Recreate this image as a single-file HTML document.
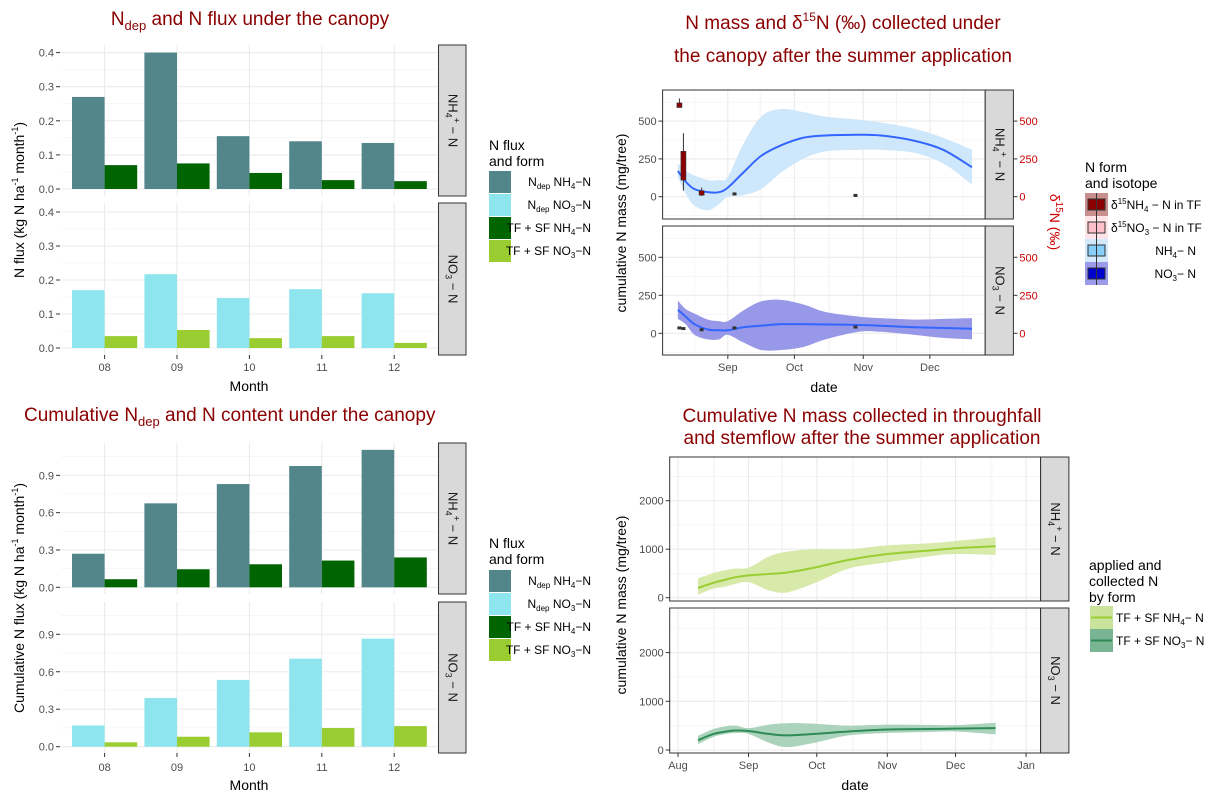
<!DOCTYPE html>
<html><head><meta charset="utf-8"><style>
body{margin:0;background:#fff;}
svg{display:block;font-family:"Liberation Sans",sans-serif;}
.tk{font-size:11px;fill:#4d4d4d;}
.ax{font-size:14px;fill:#000;}
.ttl{font-size:19px;fill:#8b0000;}
.lt{font-size:14px;fill:#000;}
.ll{font-size:12px;fill:#000;}
.st{font-size:13px;fill:#1a1a1a;}
</style></head><body>
<svg id="chart" width="1211" height="797" viewBox="0 0 1211 797">
<text class="ttl" x="250" y="25" text-anchor="middle">N<tspan font-size="13" dy="5">dep</tspan><tspan dy="-5"> and N flux under the canopy</tspan></text>
<text class="ttl" x="843" y="29" text-anchor="middle">N mass and δ<tspan font-size="12" dy="-8">15</tspan><tspan dy="8">N (‰) collected under</tspan></text>
<text class="ttl" x="843" y="62" text-anchor="middle">the canopy after the summer application</text>
<text class="ttl" x="24" y="421">Cumulative N<tspan font-size="13" dy="5">dep</tspan><tspan dy="-5"> and N content under the canopy</tspan></text>
<text class="ttl" x="862" y="422" text-anchor="middle">Cumulative N mass collected in throughfall</text>
<text class="ttl" x="862" y="444" text-anchor="middle">and stemflow after the summer application</text>

<text class="ax" transform="translate(24,200) rotate(-90)" text-anchor="middle">N flux  (kg N ha<tspan font-size="9" dy="-6">-1</tspan><tspan dy="6"> month</tspan><tspan font-size="9" dy="-6">-1</tspan><tspan dy="6">)</tspan></text>
<text class="ax" transform="translate(24,598) rotate(-90)" text-anchor="middle">Cumulative N flux  (kg N ha<tspan font-size="9" dy="-6">-1</tspan><tspan dy="6"> month</tspan><tspan font-size="9" dy="-6">-1</tspan><tspan dy="6">)</tspan></text>
<text class="ax" transform="translate(626,223) rotate(-90)" text-anchor="middle">cumulative N mass (mg/tree)</text>
<text class="ax" transform="translate(626,605) rotate(-90)" text-anchor="middle">cumulative N mass (mg/tree)</text>
<text transform="translate(1050,222) rotate(90)" text-anchor="middle" font-size="14" fill="#cc0000">δ<tspan font-size="10" dy="-6">15</tspan><tspan dy="6">N (‰)</tspan></text>
<text class="ax" x="249" y="391" text-anchor="middle">Month</text>
<text class="ax" x="249" y="790" text-anchor="middle">Month</text>
<text class="ax" x="824" y="392" text-anchor="middle">date</text>
<text class="ax" x="855" y="790" text-anchor="middle">date</text>

<!-- legends flux -->
<g>
<text class="lt" x="489" y="150">N flux</text><text class="lt" x="489" y="166">and form</text>
<rect x="489" y="171" width="22" height="22" fill="#53868b"/>
<rect x="489" y="194" width="22" height="22" fill="#8ee5ee"/>
<rect x="489" y="217" width="22" height="22" fill="#006400"/>
<rect x="489" y="240" width="22" height="22" fill="#9acd32"/>
<text class="ll" x="591" y="186" text-anchor="end">N<tspan font-size="8" dy="3">dep</tspan><tspan dy="-3"> NH</tspan><tspan font-size="8" dy="3">4</tspan><tspan dy="-3">−N</tspan></text>
<text class="ll" x="591" y="209" text-anchor="end">N<tspan font-size="8" dy="3">dep</tspan><tspan dy="-3"> NO</tspan><tspan font-size="8" dy="3">3</tspan><tspan dy="-3">−N</tspan></text>
<text class="ll" x="591" y="232" text-anchor="end">TF + SF NH<tspan font-size="8" dy="3">4</tspan><tspan dy="-3">−N</tspan></text>
<text class="ll" x="591" y="255" text-anchor="end">TF + SF NO<tspan font-size="8" dy="3">3</tspan><tspan dy="-3">−N</tspan></text>
</g>
<g>
<text class="lt" x="489" y="548">N flux</text><text class="lt" x="489" y="564">and form</text>
<rect x="489" y="570" width="22" height="22" fill="#53868b"/>
<rect x="489" y="593" width="22" height="22" fill="#8ee5ee"/>
<rect x="489" y="616" width="22" height="22" fill="#006400"/>
<rect x="489" y="639" width="22" height="22" fill="#9acd32"/>
<text class="ll" x="591" y="585" text-anchor="end">N<tspan font-size="8" dy="3">dep</tspan><tspan dy="-3"> NH</tspan><tspan font-size="8" dy="3">4</tspan><tspan dy="-3">−N</tspan></text>
<text class="ll" x="591" y="608" text-anchor="end">N<tspan font-size="8" dy="3">dep</tspan><tspan dy="-3"> NO</tspan><tspan font-size="8" dy="3">3</tspan><tspan dy="-3">−N</tspan></text>
<text class="ll" x="591" y="631" text-anchor="end">TF + SF NH<tspan font-size="8" dy="3">4</tspan><tspan dy="-3">−N</tspan></text>
<text class="ll" x="591" y="654" text-anchor="end">TF + SF NO<tspan font-size="8" dy="3">3</tspan><tspan dy="-3">−N</tspan></text>
</g>
<g>
<text class="lt" x="1085" y="172">N form</text><text class="lt" x="1085" y="188">and isotope</text>
<rect x="1085" y="193" width="23" height="23" fill="#c98f8f"/><rect x="1088" y="199" width="17" height="11" fill="#8b0000" stroke="#333"/><line x1="1096.5" y1="193" x2="1096.5" y2="216" stroke="#333"/>
<rect x="1085" y="216" width="23" height="23" fill="#ffe4e8"/><rect x="1088" y="222" width="17" height="11" fill="#ffc0cb" stroke="#333"/><line x1="1096.5" y1="216" x2="1096.5" y2="239" stroke="#333"/>
<rect x="1085" y="239" width="23" height="23" fill="#d2eafb"/><rect x="1088" y="245" width="17" height="11" fill="#87cefa" stroke="#333"/><line x1="1096.5" y1="239" x2="1096.5" y2="262" stroke="#333"/>
<rect x="1085" y="262" width="23" height="23" fill="#9b9be9"/><rect x="1088" y="268" width="17" height="11" fill="#0000cd" stroke="#333"/><line x1="1096.5" y1="262" x2="1096.5" y2="285" stroke="#333"/>
<text class="ll" x="1111" y="209">δ<tspan font-size="8" dy="-5">15</tspan><tspan dy="5">NH</tspan><tspan font-size="8" dy="3">4</tspan><tspan dy="-3"> − N in TF</tspan></text>
<text class="ll" x="1111" y="232">δ<tspan font-size="8" dy="-5">15</tspan><tspan dy="5">NO</tspan><tspan font-size="8" dy="3">3</tspan><tspan dy="-3"> − N in TF</tspan></text>
<text class="ll" x="1196" y="255" text-anchor="end">NH<tspan font-size="8" dy="3">4</tspan><tspan dy="-3">− N</tspan></text>
<text class="ll" x="1196" y="278" text-anchor="end">NO<tspan font-size="8" dy="3">3</tspan><tspan dy="-3">− N</tspan></text>
</g>
<g>
<text class="lt" x="1089" y="570">applied and</text><text class="lt" x="1089" y="586">collected N</text><text class="lt" x="1089" y="602">by form</text>
<rect x="1090" y="606" width="23" height="23" fill="#c9e49a"/><line x1="1091" y1="617.5" x2="1112" y2="617.5" stroke="#9acd32" stroke-width="2"/>
<rect x="1090" y="629" width="23" height="23" fill="#79b592"/><line x1="1091" y1="640.5" x2="1112" y2="640.5" stroke="#2e8b57" stroke-width="2"/>
<text class="ll" x="1116" y="622">TF + SF NH<tspan font-size="8" dy="3">4</tspan><tspan dy="-3">− N</tspan></text>
<text class="ll" x="1116" y="645">TF + SF NO<tspan font-size="8" dy="3">3</tspan><tspan dy="-3">− N</tspan></text>
</g>
</svg>
<script>
// ---- data ----
const months=['08','09','10','11','12'];
const fluxDepNH4=[0.27,0.40,0.155,0.14,0.135];
const fluxTfNH4=[0.07,0.075,0.047,0.026,0.023];
const fluxDepNO3=[0.17,0.217,0.147,0.173,0.161];
const fluxTfNO3=[0.035,0.053,0.029,0.035,0.015];
const cumDepNH4=[0.27,0.675,0.83,0.975,1.105];
const cumTfNH4=[0.065,0.145,0.185,0.215,0.24];
const cumDepNO3=[0.17,0.39,0.535,0.705,0.865];
const cumTfNO3=[0.035,0.08,0.115,0.15,0.165];
const fluxTicks=[0,0.1,0.2,0.3,0.4];
const cumTicks=[0,0.3,0.6,0.9];
// mass under canopy (days since Aug 1)
const massDays=[8.5,12,16,22,27,31,38,46,55,65,75,90,100,115,128,141];
const massNH4=[170,100,50,30,30,60,160,270,340,390,405,410,405,370,310,195];
const massNH4Lo=[130,20,-60,-90,-50,0,10,50,160,250,300,310,310,290,220,80];
const massNH4Hi=[220,170,140,110,110,130,350,530,580,560,530,510,490,450,390,310];
const massNO3=[155,110,60,25,20,20,40,50,60,60,58,55,50,40,35,30];
const massNO3Lo=[95,60,-10,-40,-40,-10,-60,-110,-110,-90,-40,10,10,-10,-30,-40];
const massNO3Hi=[215,160,130,90,80,80,150,210,220,190,140,110,100,90,95,100];
const boxDays=[9.2,11,19.2];
const boxLow=[590,40,5];
const boxQ1=[590,110,10];
const boxQ3=[620,300,40];
const boxHigh=[650,420,60];
const dotDaysNH4=[34,88.5];
const dotValsNH4=[15,5];
const dotDaysNO3=[9.2,11,19.2,34,88.5];
const dotValsNO3=[32,28,20,32,38];
const massTicks=[0,250,500];
const monthLabelsMass=['Sep','Oct','Nov','Dec'];
const monthDaysMass=[31,61,92,122];
// collected
const colDays=[8.8,15,20,25,31,40,48,60,75,92,110,122,139.6];
const colNH4=[200,300,360,420,460,490,520,620,780,900,970,1020,1060];
const colNH4Lo=[60,180,220,280,320,150,110,300,600,730,850,900,880];
const colNH4Hi=[400,500,560,600,620,850,950,1000,1000,1080,1120,1170,1250];
const colNO3=[200,320,370,400,390,330,300,330,380,420,430,440,450];
const colNO3Lo=[120,260,320,350,330,150,60,150,300,350,370,380,320];
const colNO3Hi=[290,420,480,500,450,520,550,540,500,520,515,510,560];
const colTicks=[0,1000,2000];
const monthLabelsCol=['Aug','Sep','Oct','Nov','Dec','Jan'];
const monthDaysCol=[0,31,61,92,122,153];

const NS='http://www.w3.org/2000/svg';
const svg=document.getElementById('chart');
const first=svg.firstChild;
function mk(tag,attrs,parent){const e=document.createElementNS(NS,tag);for(const k in attrs)e.setAttribute(k,attrs[k]);(parent||svg).insertBefore(e,parent?null:first);return e;}
function smoothPath(xs,ys){let d='M'+xs[0]+','+ys[0];for(let i=0;i<xs.length-1;i++){const x0=xs[Math.max(0,i-1)],y0=ys[Math.max(0,i-1)],x1=xs[i],y1=ys[i],x2=xs[i+1],y2=ys[i+1],x3=xs[Math.min(xs.length-1,i+2)],y3=ys[Math.min(xs.length-1,i+2)];d+=' C'+(x1+(x2-x0)/6)+','+(y1+(y2-y0)/6)+' '+(x2-(x3-x1)/6)+','+(y2-(y3-y1)/6)+' '+x2+','+y2;}return d;}
function bandPath(xs,lo,hi){const p1=smoothPath(xs,hi);const rx=xs.slice().reverse(),rl=lo.slice().reverse();const p2=smoothPath(rx,rl).replace('M','L');return p1+' '+p2+' Z';}

function strip(x,y,w,h,label,sub,sup,name){
  const g=mk('g',{});
  
  
  mk('rect',{x:x,y:y,width:w,height:h,fill:'#d9d9d9',stroke:'#333','stroke-width':1},g);
  const t=mk('text',{transform:'translate('+(x+w/2-4)+','+(y+h/2)+') rotate(90)','text-anchor':'middle',class:'st'},g);
  t.innerHTML=label+'<tspan font-size="9" dy="3">'+sub+'</tspan>'+(sup?'<tspan font-size="9" dy="-8">'+sup+'</tspan><tspan dy="5"> − N</tspan>':'<tspan dy="-3"> − N</tspan>');
}

// ---- bar panels ----
function barPanel(top,bot,zero,scale,ticks,dep,tf,depCol,tfCol,name,showX,xLabY){
  const x0=60.8,x1=437.7;
  const g=mk('g',{});
  
  
  const yv=v=>zero-v*scale;
  const step=ticks[1]-ticks[0];
  for(let v=step/2;yv(v)>=top;v+=step){mk('line',{x1:x0,x2:x1,y1:yv(v),y2:yv(v),stroke:'#f2f2f2','stroke-width':0.6},g);}
  ticks.forEach(v=>{mk('line',{x1:x0,x2:x1,y1:yv(v),y2:yv(v),stroke:'#ebebeb','stroke-width':1.1},g);
    const t=mk('text',{x:54,y:yv(v)+4,'text-anchor':'end',class:'tk'},g);t.textContent=v.toFixed(1);
    mk('line',{x1:56,x2:60,y1:yv(v),y2:yv(v),stroke:'#333'},g);});
  const xc=i=>104.6+i*72.4;
  months.forEach((m,i)=>{mk('line',{x1:xc(i),x2:xc(i),y1:top,y2:bot,stroke:'#ebebeb','stroke-width':1.1},g);});
  dep.forEach((v,i)=>{const r=mk('rect',{x:xc(i)-32.6,y:yv(v),width:32.6,height:zero-yv(v),fill:depCol},g);
    
    });
  tf.forEach((v,i)=>{const r=mk('rect',{x:xc(i),y:yv(v),width:32.6,height:zero-yv(v),fill:tfCol},g);
    
    });
  if(showX){months.forEach((m,i)=>{mk('line',{x1:xc(i),x2:xc(i),y1:bot,y2:bot+4,stroke:'#333'},g);
    const t=mk('text',{x:xc(i),y:xLabY,'text-anchor':'middle',class:'tk'},g);t.textContent=m;});}
}
barPanel(45,196,189,341,fluxTicks,fluxDepNH4,fluxTfNH4,'#53868b','#006400','panel-flux-nh4',false);
barPanel(203,355,348,340,fluxTicks,fluxDepNO3,fluxTfNO3,'#8ee5ee','#9acd32','panel-flux-no3',true,371);
barPanel(443,594,587.3,124.4,cumTicks,cumDepNH4,cumTfNH4,'#53868b','#006400','panel-cum-nh4',false);
barPanel(602,753,746.7,124.9,cumTicks,cumDepNO3,cumTfNO3,'#8ee5ee','#9acd32','panel-cum-no3',true,771);
strip(438.5,45,27.5,151,'NH','4','+','strip-flux-nh4');
strip(438.5,203,27.5,152,'NO','3','','strip-flux-no3');
strip(438.5,443,27.5,151,'NH','4','+','strip-cum-nh4');
strip(438.5,602,27.5,151,'NO','3','','strip-cum-no3');

// ---- line panels ----
function linePanel(o){
  const g=mk('g',{});
  
  
  const xd=d=>o.xOrig+d*o.pxDay, yv=v=>o.zero-v*o.scale;
  mk('rect',{x:o.x0,y:o.top,width:o.x1-o.x0,height:o.bot-o.top,fill:'#fff'},g);
  const st=o.ticks[1]-o.ticks[0];
  for(let v=o.ticks[0]-st/2;v<=o.ticks[2]+st;v+=st){if(yv(v)>o.top&&yv(v)<o.bot)mk('line',{x1:o.x0,x2:o.x1,y1:yv(v),y2:yv(v),stroke:'#f2f2f2','stroke-width':0.6},g);}
  for(let i=0;i<o.mDays.length;i++){const a=o.mDays[i],b=o.mDays[i+1]!==undefined?o.mDays[i+1]:a+30;const mid=(a+b)/2;
    [a-(b-a)/2,mid].forEach(d=>{if(xd(d)>o.x0&&xd(d)<o.x1)mk('line',{x1:xd(d),x2:xd(d),y1:o.top,y2:o.bot,stroke:'#f2f2f2','stroke-width':0.6},g);});}
  o.ticks.forEach(v=>mk('line',{x1:o.x0,x2:o.x1,y1:yv(v),y2:yv(v),stroke:'#ebebeb','stroke-width':1.1},g));
  o.mDays.forEach(d=>mk('line',{x1:xd(d),x2:xd(d),y1:o.top,y2:o.bot,stroke:'#ebebeb','stroke-width':1.1},g));
  const band=mk('path',{d:bandPath(o.days.map(xd),o.lo.map(yv),o.hi.map(yv)),fill:o.bandCol,stroke:'none'},g);
  
  
  const ln=mk('path',{d:smoothPath(o.days.map(xd),o.vals.map(yv)),fill:'none',stroke:o.lineCol,'stroke-width':2},g);
  
  
  if(o.boxes){o.boxes.d.forEach((d,i)=>{const x=xd(d);
    mk('line',{x1:x,x2:x,y1:yv(o.boxes.lo[i]),y2:yv(o.boxes.hi[i]),stroke:'#333'},g);
    const r=mk('rect',{x:x-2.5,y:yv(o.boxes.q3[i]),width:5,height:Math.max(2,yv(o.boxes.q1[i])-yv(o.boxes.q3[i])),fill:'#8b0000',stroke:'#333','stroke-width':0.6},g);
    
    });}
  if(o.dots){o.dots.d.forEach((d,i)=>{const p=mk('rect',{x:xd(d)-2,y:yv(o.dots.v[i])-2,width:4,height:3,fill:'#333'},g);
    
    });}
  mk('rect',{x:o.x0,y:o.top,width:o.x1-o.x0,height:o.bot-o.top,fill:'none',stroke:'#333','stroke-width':1},g);
  o.ticks.forEach(v=>{mk('line',{x1:o.x0-4,x2:o.x0,y1:yv(v),y2:yv(v),stroke:'#333'},g);
    const t=mk('text',{x:o.x0-6,y:yv(v)+4,'text-anchor':'end',class:'tk'},g);t.textContent=v;
    if(o.right){mk('line',{x1:o.right,x2:o.right+4,y1:yv(v),y2:yv(v),stroke:'#333'},g);
      const r=mk('text',{x:o.right+6,y:yv(v)+4,class:'tk',fill:'#cc0000',style:'fill:#cc0000'},g);r.textContent=v;}});
  if(o.showX){o.mDays.forEach((d,i)=>{mk('line',{x1:xd(d),x2:xd(d),y1:o.bot,y2:o.bot+4,stroke:'#333'},g);
    const t=mk('text',{x:xd(d),y:o.bot+16,'text-anchor':'middle',class:'tk'},g);t.textContent=o.mLabels[i];});}
}
const mCommon={x0:662.6,x1:985.2,xOrig:659,pxDay:2.22,ticks:massTicks,mDays:monthDaysMass,mLabels:monthLabelsMass,right:1013.4};
linePanel(Object.assign({},mCommon,{name:'panel-mass-nh4',top:90,bot:219,zero:196.7,scale:0.1512,days:massDays,vals:massNH4,lo:massNH4Lo,hi:massNH4Hi,bandCol:'#cfe7fa',lineCol:'#3366ff',boxes:{d:boxDays,lo:boxLow,q1:boxQ1,q3:boxQ3,hi:boxHigh},dots:{d:dotDaysNH4,v:dotValsNH4}}));
linePanel(Object.assign({},mCommon,{name:'panel-mass-no3',top:226,bot:355,zero:333.3,scale:0.152,days:massDays,vals:massNO3,lo:massNO3Lo,hi:massNO3Hi,bandCol:'#9898e8',lineCol:'#3366ff',dots:{d:dotDaysNO3,v:dotValsNO3},showX:true}));
const cCommon={x0:669.7,x1:1040.6,xOrig:678,pxDay:2.275,ticks:colTicks,mDays:monthDaysCol,mLabels:monthLabelsCol};
linePanel(Object.assign({},cCommon,{name:'panel-col-nh4',top:457,bot:601,zero:597.7,scale:0.0485,days:colDays,vals:colNH4,lo:colNH4Lo,hi:colNH4Hi,bandCol:'#d7eaaa',lineCol:'#9acd32'}));
linePanel(Object.assign({},cCommon,{name:'panel-col-no3',top:608,bot:753,zero:750,scale:0.0487,days:colDays,vals:colNO3,lo:colNO3Lo,hi:colNO3Hi,bandCol:'#abd3bb',lineCol:'#2e8b57',showX:true}));
strip(985.2,90,28.2,129,'NH','4','+','strip-mass-nh4');
strip(985.2,226,28.2,129,'NO','3','','strip-mass-no3');
strip(1040.6,457,28.3,144,'NH','4','+','strip-col-nh4');
strip(1040.6,608,28.3,145,'NO','3','','strip-col-no3');
</script>
</body></html>
